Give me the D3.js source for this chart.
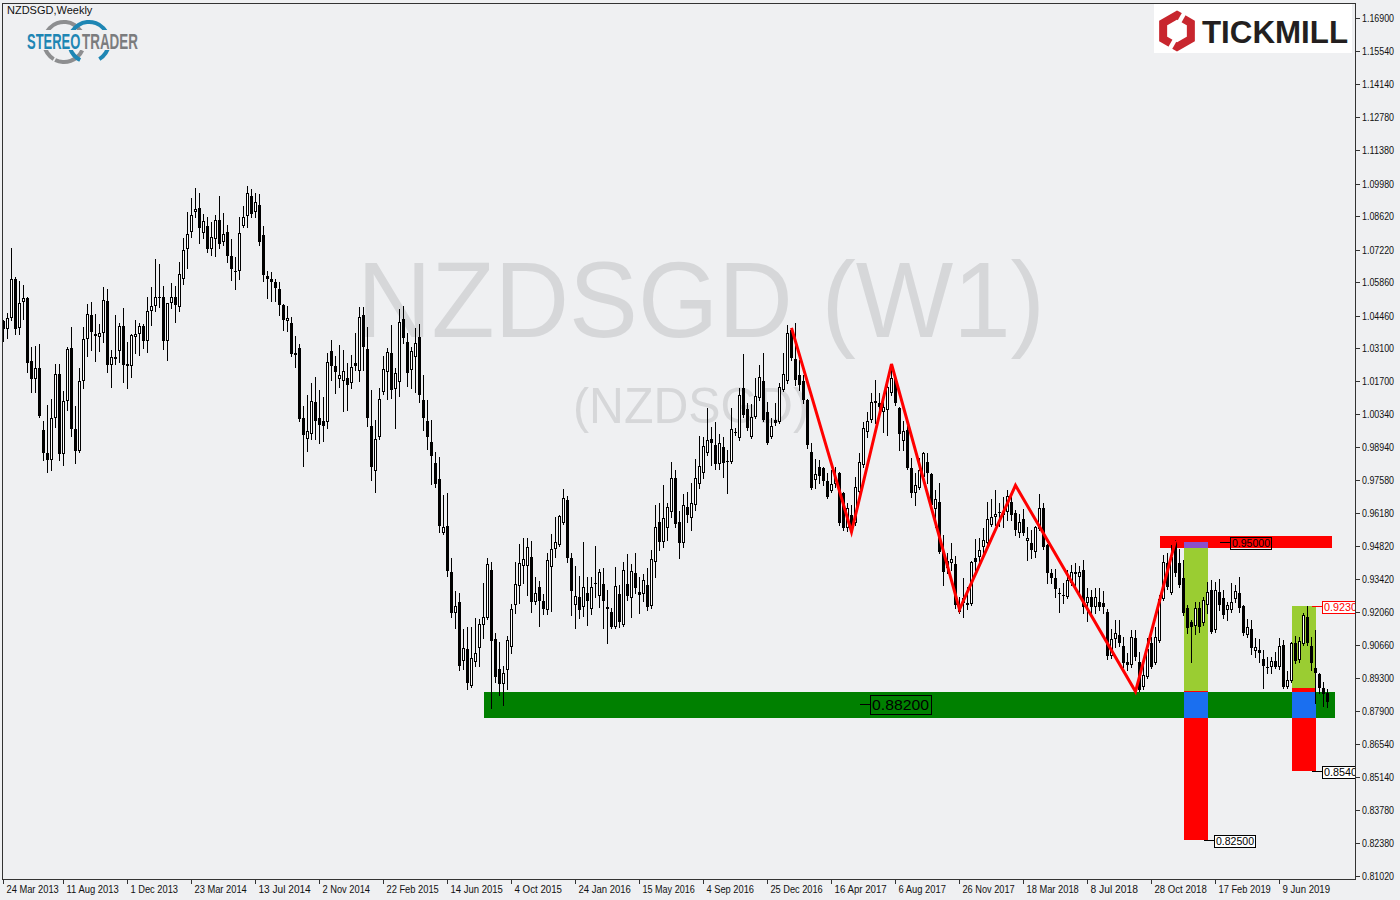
<!DOCTYPE html>
<html><head><meta charset="utf-8">
<script src="https://cdn.jsdelivr.net/npm/d3@7"></script>
<style>
html,body{margin:0;padding:0;background:#eff0f2;}
svg{display:block;}
text{font-family:"Liberation Sans",Arial,sans-serif;}
</style></head><body>
<svg id="chart" width="1400" height="900"></svg>
<script>
// ---------- DATA (weekly NZDSGD candles) ----------
const openP = [1.0423,1.0390,1.0436,1.0599,1.0394,1.0503,1.0519,1.0256,1.0180,1.0226,0.9967,0.9870,0.9841,1.0017,1.0201,0.9866,1.0088,1.0310,0.9971,0.9879,
1.0172,1.0348,1.0448,1.0369,1.0356,1.0373,1.0507,1.0239,1.0272,1.0297,1.0402,1.0243,1.0235,1.0356,1.0369,1.0402,1.0339,1.0465,1.0486,1.0524,
1.0523,1.0339,1.0498,1.0524,1.0482,1.0599,1.0724,1.0796,1.0879,1.0896,1.0791,1.0821,1.0724,1.0766,1.0846,1.0754,1.0796,1.0695,1.0632,1.0632,
1.0821,1.0862,1.0946,1.0879,1.0908,1.0783,1.0611,1.0599,1.0586,1.0557,1.0490,1.0423,1.0415,1.0289,1.0310,1.0017,0.9929,0.9950,1.0084,1.0017,
1.0004,1.0000,1.0297,1.0235,1.0180,1.0172,1.0184,1.0164,1.0247,1.0214,1.0448,1.0306,0.9984,0.9795,0.9937,1.0126,1.0210,1.0289,1.0138,1.0168,
1.0431,1.0335,1.0218,1.0272,1.0356,1.0092,1.0004,0.9917,0.9829,0.9762,0.9536,0.9565,0.9372,0.9201,0.9247,0.9000,0.9050,0.8895,0.8996,0.9054,
0.9151,0.9180,0.9381,0.9092,0.8966,0.8904,0.8962,0.9058,0.9234,0.9314,0.9398,0.9398,0.9435,0.9247,0.9310,0.9251,0.9213,0.9393,0.9469,0.9485,
0.9578,0.9674,0.9431,0.9234,0.9268,0.9226,0.9285,0.9218,0.9326,0.9272,0.9322,0.9218,0.9205,0.9142,0.9280,0.9151,0.9322,0.9264,0.9368,0.9289,
0.9280,0.9318,0.9230,0.9414,0.9582,0.9498,0.9557,0.9624,0.9766,0.9582,0.9494,0.9645,0.9598,0.9653,0.9741,0.9787,0.9870,0.9929,0.9904,0.9824,
0.9896,0.9837,0.9833,0.9958,0.9933,1.0143,1.0055,0.9937,1.0021,1.0101,1.0172,1.0042,0.9937,1.0009,1.0000,1.0134,1.0172,1.0385,1.0264,1.0197,
1.0172,1.0092,0.9875,0.9758,0.9812,0.9808,0.9753,0.9711,0.9741,0.9787,0.9703,0.9557,0.9611,0.9578,0.9707,0.9820,0.9958,1.0009,1.0088,1.0080,
1.0042,1.0050,1.0122,1.0180,1.0059,0.9921,0.9967,0.9808,0.9703,0.9724,0.9770,0.9833,0.9783,0.9636,0.9665,0.9456,0.9389,0.9410,0.9406,0.9205,
0.9243,0.9243,0.9238,0.9431,0.9435,0.9477,0.9494,0.9569,0.9603,0.9624,0.9611,0.9624,0.9665,0.9619,0.9536,0.9594,0.9502,0.9494,0.9456,0.9552,
0.9640,0.9485,0.9368,0.9347,0.9285,0.9276,0.9268,0.9326,0.9372,0.9352,0.9381,0.9243,0.9268,0.9226,0.9247,0.9243,0.9205,0.9021,0.9092,0.9109,
0.9063,0.8996,0.8983,0.9096,0.8996,0.8891,0.8933,0.9075,0.8991,0.9084,0.9259,0.9410,0.9285,0.9498,0.9410,0.9347,0.9222,0.9163,0.9146,0.9222,
0.9159,0.9234,0.9297,0.9130,0.9289,0.9264,0.9213,0.9213,0.9259,0.9285,0.9230,0.9109,0.9134,0.9042,0.9046,0.9008,0.8975,0.8975,0.9000,0.8975,
0.9067,0.8891,0.8916,0.9075,0.9004,0.9071,0.9184,0.9063,0.8971,0.8945,0.8887,0.8866];
const highP = [1.0427,1.0456,1.0729,1.0607,1.0590,1.0574,1.0524,1.0314,1.0318,1.0327,1.0004,1.0071,1.0097,1.0243,1.0243,1.0130,1.0314,1.0398,1.0067,1.0226,
1.0398,1.0494,1.0503,1.0452,1.0410,1.0565,1.0557,1.0302,1.0448,1.0415,1.0478,1.0335,1.0369,1.0427,1.0415,1.0410,1.0524,1.0565,1.0683,1.0662,
1.0570,1.0498,1.0582,1.0570,1.0670,1.0770,1.0879,1.0938,1.0980,1.0959,1.0871,1.0858,1.0837,1.0867,1.0946,1.0875,1.0825,1.0766,1.0691,1.0858,
1.0904,1.0988,1.0976,1.0959,1.0955,1.0821,1.0632,1.0628,1.0599,1.0586,1.0494,1.0486,1.0440,1.0360,1.0327,1.0067,1.0113,1.0164,1.0189,1.0134,
1.0105,1.0289,1.0343,1.0277,1.0323,1.0302,1.0247,1.0281,1.0373,1.0482,1.0482,1.0398,1.0134,1.0009,1.0143,1.0277,1.0310,1.0406,1.0226,1.0473,
1.0486,1.0373,1.0314,1.0394,1.0410,1.0197,1.0092,1.0009,0.9875,0.9854,0.9695,0.9703,0.9431,0.9293,0.9285,0.9134,0.9142,0.9142,0.9180,0.9176,
0.9326,0.9431,0.9414,0.9117,0.9079,0.8979,0.9105,0.9238,0.9414,0.9490,0.9515,0.9515,0.9502,0.9352,0.9335,0.9280,0.9452,0.9531,0.9603,0.9611,
0.9720,0.9691,0.9452,0.9398,0.9356,0.9498,0.9352,0.9352,0.9481,0.9385,0.9389,0.9297,0.9222,0.9393,0.9318,0.9414,0.9448,0.9406,0.9452,0.9352,
0.9364,0.9389,0.9465,0.9653,0.9661,0.9737,0.9661,0.9833,0.9799,0.9628,0.9699,0.9707,0.9745,0.9845,0.9942,0.9937,1.0059,0.9979,1.0000,0.9950,
0.9937,0.9883,1.0059,0.9975,1.0143,1.0285,1.0080,1.0076,1.0184,1.0239,1.0289,1.0084,1.0017,1.0080,1.0164,1.0289,1.0406,1.0394,1.0415,1.0260,
1.0197,1.0097,0.9912,0.9845,0.9841,0.9812,0.9787,0.9799,0.9812,0.9791,0.9707,0.9661,0.9653,0.9770,0.9870,1.0000,1.0042,1.0122,1.0176,1.0122,
1.0092,1.0168,1.0226,1.0197,1.0063,1.0004,0.9984,0.9850,0.9787,0.9850,0.9875,0.9870,0.9787,0.9716,0.9745,0.9527,0.9452,0.9494,0.9440,0.9268,
0.9347,0.9310,0.9418,0.9511,0.9515,0.9557,0.9665,0.9678,0.9716,0.9661,0.9686,0.9716,0.9686,0.9632,0.9615,0.9636,0.9561,0.9548,0.9565,0.9699,
0.9661,0.9490,0.9385,0.9385,0.9305,0.9326,0.9381,0.9402,0.9410,0.9398,0.9423,0.9305,0.9297,0.9305,0.9305,0.9293,0.9218,0.9134,0.9171,0.9171,
0.9100,0.9033,0.9130,0.9130,0.9038,0.8983,0.9096,0.9100,0.9142,0.9276,0.9444,0.9452,0.9485,0.9506,0.9469,0.9423,0.9234,0.9171,0.9247,0.9247,
0.9268,0.9331,0.9339,0.9331,0.9343,0.9297,0.9247,0.9326,0.9318,0.9352,0.9234,0.9176,0.9171,0.9096,0.9092,0.9046,0.9017,0.9017,0.9038,0.9096,
0.9088,0.8958,0.9079,0.9105,0.9100,0.9201,0.9230,0.9100,0.9130,0.8950,0.8912,0.8883];
const lowP = [1.0339,1.0352,1.0427,1.0369,1.0369,1.0431,1.0210,1.0126,1.0126,1.0021,0.9841,0.9791,0.9799,0.9979,0.9841,0.9820,1.0050,0.9942,0.9829,0.9875,
1.0143,1.0277,1.0302,1.0256,1.0297,1.0335,1.0210,1.0147,1.0243,1.0251,1.0168,1.0143,1.0189,1.0289,1.0281,1.0310,1.0293,1.0406,1.0465,1.0482,
1.0306,1.0260,1.0478,1.0419,1.0465,1.0578,1.0645,1.0775,1.0858,1.0749,1.0770,1.0712,1.0699,1.0695,1.0729,1.0741,1.0670,1.0595,1.0557,1.0599,
1.0817,1.0817,1.0858,1.0858,1.0741,1.0590,1.0519,1.0507,1.0507,1.0448,1.0385,1.0381,1.0277,1.0231,1.0004,0.9816,0.9879,0.9929,0.9929,0.9912,
0.9921,0.9975,1.0176,1.0122,1.0147,1.0046,1.0050,1.0143,1.0218,1.0172,1.0218,0.9984,0.9758,0.9707,0.9929,1.0117,1.0097,1.0101,0.9975,1.0109,
1.0331,1.0151,1.0143,1.0126,1.0084,0.9967,0.9887,0.9741,0.9728,0.9540,0.9531,0.9356,0.9184,0.9138,0.8962,0.8966,0.8883,0.8891,0.8979,0.8979,
0.9096,0.9176,0.8803,0.8912,0.8858,0.8816,0.8883,0.9033,0.9201,0.9243,0.9326,0.9276,0.9205,0.9238,0.9146,0.9197,0.9197,0.9209,0.9435,0.9481,
0.9573,0.9414,0.9192,0.9138,0.9180,0.9188,0.9151,0.9197,0.9268,0.9226,0.9138,0.9075,0.9138,0.9138,0.9142,0.9146,0.9255,0.9184,0.9285,0.9201,
0.9251,0.9213,0.9222,0.9352,0.9465,0.9477,0.9506,0.9603,0.9561,0.9431,0.9477,0.9582,0.9548,0.9632,0.9724,0.9766,0.9862,0.9820,0.9804,0.9804,
0.9770,0.9703,0.9829,0.9946,0.9925,1.0021,0.9967,0.9933,1.0017,1.0092,1.0004,0.9908,0.9933,0.9988,0.9996,1.0130,1.0164,1.0260,1.0155,1.0134,
1.0080,0.9891,0.9720,0.9724,0.9745,0.9737,0.9682,0.9707,0.9728,0.9569,0.9548,0.9544,0.9531,0.9569,0.9703,0.9812,0.9937,1.0000,0.9996,1.0021,
0.9958,0.9946,1.0113,1.0071,0.9883,0.9883,0.9804,0.9686,0.9653,0.9720,0.9749,0.9745,0.9645,0.9561,0.9452,0.9318,0.9368,0.9381,0.9222,0.9201,
0.9184,0.9218,0.9234,0.9381,0.9410,0.9431,0.9490,0.9565,0.9569,0.9565,0.9561,0.9590,0.9590,0.9527,0.9519,0.9527,0.9423,0.9431,0.9435,0.9548,
0.9469,0.9326,0.9326,0.9268,0.9205,0.9243,0.9264,0.9318,0.9310,0.9276,0.9201,0.9167,0.9201,0.9201,0.9213,0.9201,0.9008,0.9012,0.9058,0.9063,
0.8975,0.8962,0.8975,0.9004,0.8874,0.8883,0.8929,0.8971,0.8987,0.9079,0.9255,0.9301,0.9280,0.9356,0.9310,0.9192,0.9117,0.8996,0.9113,0.9121,
0.9151,0.9201,0.9117,0.9121,0.9213,0.9180,0.9171,0.9205,0.9247,0.9205,0.9109,0.9100,0.9029,0.9017,0.8996,0.8887,0.8950,0.8950,0.8971,0.8966,
0.8887,0.8887,0.8912,0.8991,0.8996,0.9067,0.9067,0.8962,0.8824,0.8866,0.8812,0.8807];
const closeP = [1.0390,1.0436,1.0599,1.0390,1.0498,1.0519,1.0247,1.0180,1.0226,1.0025,0.9870,0.9841,1.0017,1.0201,0.9866,1.0088,1.0306,0.9971,0.9879,1.0172,
1.0348,1.0452,1.0377,1.0361,1.0373,1.0511,1.0239,1.0272,1.0264,1.0402,1.0239,1.0235,1.0364,1.0369,1.0402,1.0339,1.0465,1.0486,1.0524,1.0523,
1.0339,1.0498,1.0524,1.0490,1.0620,1.0720,1.0787,1.0867,1.0892,1.0812,1.0842,1.0724,1.0775,1.0846,1.0745,1.0787,1.0695,1.0641,1.0630,1.0791,
1.0858,1.0959,1.0871,1.0921,1.0754,1.0616,1.0599,1.0586,1.0561,1.0490,1.0427,1.0436,1.0285,1.0281,1.0013,0.9946,0.9963,1.0088,1.0004,0.9988,
0.9984,1.0251,1.0235,1.0210,1.0197,1.0214,1.0155,1.0231,1.0235,1.0440,1.0314,1.0017,0.9812,0.9929,1.0097,1.0222,1.0293,1.0134,1.0205,1.0419,
1.0352,1.0205,1.0297,1.0331,1.0113,1.0017,0.9937,0.9858,0.9741,0.9565,0.9561,0.9377,0.9201,0.9230,0.8979,0.9054,0.8908,0.9012,0.9033,0.9155,
0.9184,0.9406,0.9084,0.8933,0.8904,0.8950,0.9088,0.9218,0.9322,0.9410,0.9427,0.9477,0.9247,0.9285,0.9251,0.9218,0.9423,0.9469,0.9498,0.9607,
0.9682,0.9431,0.9293,0.9272,0.9213,0.9310,0.9251,0.9310,0.9324,0.9372,0.9251,0.9226,0.9142,0.9314,0.9163,0.9381,0.9272,0.9377,0.9305,0.9276,
0.9339,0.9226,0.9427,0.9561,0.9498,0.9598,0.9645,0.9766,0.9573,0.9494,0.9653,0.9611,0.9661,0.9766,0.9816,0.9900,0.9925,0.9912,0.9824,0.9912,
0.9829,0.9833,0.9971,0.9954,1.0113,1.0030,0.9975,1.0021,1.0109,1.0189,1.0009,0.9912,0.9984,0.9996,1.0147,1.0201,1.0373,1.0268,1.0176,1.0155,
1.0092,0.9904,0.9724,0.9783,0.9774,0.9753,0.9686,0.9741,0.9770,0.9578,0.9557,0.9640,0.9561,0.9728,0.9833,0.9975,1.0004,1.0084,1.0080,1.0063,
1.0063,1.0147,1.0184,1.0080,0.9950,0.9963,0.9808,0.9703,0.9737,0.9799,0.9870,0.9787,0.9653,0.9678,0.9456,0.9372,0.9418,0.9427,0.9234,0.9234,
0.9264,0.9234,0.9414,0.9414,0.9465,0.9506,0.9594,0.9603,0.9615,0.9619,0.9624,0.9691,0.9611,0.9548,0.9582,0.9536,0.9515,0.9465,0.9561,0.9640,
0.9477,0.9368,0.9347,0.9301,0.9280,0.9278,0.9339,0.9372,0.9364,0.9372,0.9226,0.9268,0.9226,0.9268,0.9226,0.9226,0.9021,0.9092,0.9117,0.9075,
0.8991,0.8983,0.9100,0.9017,0.8878,0.8941,0.9050,0.8975,0.9100,0.9259,0.9414,0.9310,0.9435,0.9368,0.9318,0.9201,0.9138,0.9142,0.9222,0.9142,
0.9255,0.9289,0.9121,0.9297,0.9234,0.9192,0.9234,0.9247,0.9293,0.9222,0.9117,0.9142,0.9054,0.9058,0.9033,0.8979,0.8971,0.9000,0.8975,0.9063,
0.8891,0.8920,0.9075,0.9000,0.9084,0.9192,0.9075,0.8991,0.8950,0.8887,0.8862,0.8828];

const priceTicks = [1.169,1.1554,1.1414,1.1278,1.1138,1.0998,1.0862,1.0722,1.0586,1.0446,1.031,1.017,1.0034,0.9894,0.9758,0.9618,0.9482,0.9342,0.9206,0.9066,0.893,0.879,0.8654,0.8514,0.8378,0.8238,0.8102];
const dateLabels = ["24 Mar 2013","11 Aug 2013","1 Dec 2013","23 Mar 2014","13 Jul 2014","2 Nov 2014","22 Feb 2015","14 Jun 2015","4 Oct 2015","24 Jan 2016","15 May 2016","4 Sep 2016","25 Dec 2016","16 Apr 2017","6 Aug 2017","26 Nov 2017","18 Mar 2018","8 Jul 2018","28 Oct 2018","17 Feb 2019","9 Jun 2019"];
const dateLabelBars = [0,15,31,47,63,79,95,111,127,143,159,175,191,207,223,239,255,271,287,303,319];

// zigzag pivots (bar index, price)
const zigzagBars = [197,212,222,239,253,283,293];
const zigzagPrices = [1.0394,0.9540,1.0243,0.9216,0.9735,0.8872,0.9504];

// horizontal zones: [fromBar, toBar, topPrice, bottomPrice]
const supportZone = [120,333,0.8870,0.8761];
const resistanceZone = [289,332,0.9523,0.9474];
// trade boxes: bars and level prices (top -> bottom)
const tradeBoxBars = [[295,301],[322,328]];
const tradeBoxLevels = [
  [0.9500,0.9474,0.8874,0.8870,0.8761,0.8250],
  [0.9230,0.9230,0.8888,0.8870,0.8761,0.8540]
];
// price tags: [price, bar, text, style]
const priceTags = [
  [0.8820,214,"0.88200","big"],
  [0.9500,304,"0.95000","onred"],
  [0.8250,300,"0.82500","plain"],
  [0.9230,327,"0.9230","red"],
  [0.8540,327,"0.8540","plain"]
];

// ---------- DRAW ----------
const W=1400,H=900;
const svg=d3.select("#chart");
const N=closeP.length;
const plot={left:2,right:1356,top:3,bottom:879};
const x=d3.scaleLinear().domain([0,N-1]).range([3.5,3.5+4*(N-1)]);
const y=d3.scaleLinear().domain([0.8102,1.169]).range([875.5,18.3]);

svg.append("rect").attr("width",W).attr("height",H).attr("fill","#eff0f2");
svg.append("defs").append("clipPath").attr("id","plotclip").append("rect")
  .attr("x",plot.left).attr("y",plot.top).attr("width",plot.right-plot.left).attr("height",plot.bottom-plot.top);

const g=svg.append("g").attr("clip-path","url(#plotclip)");

// watermark
g.append("text").attr("x",357).attr("y",337).attr("font-size",108).attr("fill","#d6d7d9")
  .attr("textLength",688).attr("lengthAdjust","spacingAndGlyphs").text("NZDSGD (W1)");
g.append("text").attr("x",573).attr("y",423).attr("font-size",50).attr("fill","#d6d7d9")
  .attr("textLength",236).attr("lengthAdjust","spacingAndGlyphs").text("(NZDSGD)");

// zones
function band(b0,b1,p0,p1,color){
  const yt=Math.round(y(p0)), yb=Math.round(y(p1));
  g.append("rect").attr("x",Math.round(x(b0))).attr("y",yt)
   .attr("width",Math.round(x(b1))-Math.round(x(b0))).attr("height",Math.max(1,yb-yt)).attr("fill",color);
}
band(supportZone[0],supportZone[1],supportZone[2],supportZone[3],"#008000");
band(resistanceZone[0],resistanceZone[1],resistanceZone[2],resistanceZone[3],"#ff0000");
const boxColors=["#8a4fcc","#9acd32","#ff0000","#1a6ff0","#ff0000"];
tradeBoxBars.forEach((bb,i)=>{
  const L=tradeBoxLevels[i];
  for(let j=0;j<5;j++){ if(L[j]!==L[j+1]) band(bb[0],bb[1],L[j],L[j+1],boxColors[j]); }
});

// candles
const cg=g.append("g").attr("shape-rendering","crispEdges");
const idx=d3.range(N);
cg.selectAll("line.w").data(idx).join("line").attr("class","w")
  .attr("x1",i=>x(i)).attr("x2",i=>x(i))
  .attr("y1",i=>Math.round(y(highP[i]))).attr("y2",i=>Math.round(y(lowP[i]))+1)
  .attr("stroke","#000").attr("stroke-width",1);
cg.selectAll("rect.b").data(idx).join("rect").attr("class","b")
  .each(function(i){
    const o=openP[i],c=closeP[i];
    const t=Math.round(y(Math.max(o,c))), b=Math.round(y(Math.min(o,c)));
    const s=d3.select(this);
    if(c>o && b-t>=2){
      s.attr("x",x(i)-1).attr("y",t+0.5).attr("width",2).attr("height",b-t-1)
       .attr("fill","#fff").attr("stroke","#000").attr("stroke-width",1);
    } else {
      s.attr("x",x(i)-1.5).attr("y",t).attr("width",3).attr("height",Math.max(1,b-t)).attr("fill","#000");
    }
  });

// zigzag
g.append("path").datum(zigzagBars.map((b,i)=>[x(b),y(zigzagPrices[i])]))
  .attr("d",d3.line()).attr("fill","none").attr("stroke","#ff0000").attr("stroke-width",3)
  .attr("stroke-linejoin","miter");

// price tags
priceTags.forEach(([p,b,txt,st])=>{
  const yy=Math.round(y(p))+0.5, x0=Math.round(x(b));
  const big=st==="big";
  const col=st==="red"?"#ff0000":"#000";
  const bw=big?61:(txt.length>6?41:40), bh=big?19:12;
  g.append("line").attr("x1",x0).attr("x2",x0+10).attr("y1",yy).attr("y2",yy).attr("stroke",col).attr("stroke-width",1);
  g.append("rect").attr("x",x0+10.5).attr("y",Math.round(yy-bh/2)+0.5).attr("width",bw).attr("height",bh)
    .attr("fill",st==="onred"?"none":(big?"none":"#fff")).attr("stroke",col).attr("stroke-width",1);
  g.append("text").attr("x",x0+12).attr("y",yy+(big?5.5:4)).attr("font-size",big?15:11).attr("fill",col)
    .attr("textLength",big?57:(txt.length>6?38:33)).attr("lengthAdjust","spacingAndGlyphs").text(txt);
});

// frame
svg.append("rect").attr("x",plot.left+0.5).attr("y",plot.top+0.5).attr("width",plot.right-plot.left-1).attr("height",plot.bottom-plot.top)
  .attr("fill","none").attr("stroke","#333").attr("stroke-width",1);

// right axis
const ax=svg.append("g").attr("shape-rendering","crispEdges");
priceTicks.forEach(p=>{
  const yy=Math.round(y(p))+0.5;
  ax.append("line").attr("x1",plot.right).attr("x2",plot.right+4).attr("y1",yy).attr("y2",yy).attr("stroke","#333");
  ax.append("text").attr("x",plot.right+6).attr("y",yy+3.5).attr("font-size",10).attr("fill","#111")
    .attr("textLength",32).attr("lengthAdjust","spacingAndGlyphs").text(p.toFixed(5));
});
// bottom axis
dateLabels.forEach((lab,i)=>{
  const xx=Math.round(x(dateLabelBars[i]))-0.5;
  ax.append("line").attr("x1",xx).attr("x2",xx).attr("y1",plot.bottom).attr("y2",plot.bottom+5).attr("stroke","#333");
  ax.append("text").attr("x",xx+3).attr("y",893).attr("font-size",10).attr("fill","#111")
    .attr("textLength",lab.length*4.75).attr("lengthAdjust","spacingAndGlyphs").text(lab);
});

// header text
svg.append("text").attr("x",7).attr("y",14).attr("font-size",11).attr("fill","#111").text("NZDSGD,Weekly");

// StereoTrader logo
const lg=svg.append("g");
const arc=d3.arc();
lg.append("path").attr("transform","translate(64,42)")
  .attr("d",arc({innerRadius:18,outerRadius:22,startAngle:-2.6,endAngle:1.0})).attr("fill","#8d8e90");
lg.append("path").attr("transform","translate(64,42)")
  .attr("d",arc({innerRadius:18,outerRadius:22,startAngle:2.0,endAngle:3.6})).attr("fill","#8d8e90");
lg.append("path").attr("transform","translate(89,42)")
  .attr("d",arc({innerRadius:18,outerRadius:22,startAngle:-1.0,endAngle:2.6})).attr("fill","#1e86b4");
lg.append("path").attr("transform","translate(89,42)")
  .attr("d",arc({innerRadius:18,outerRadius:22,startAngle:3.6,endAngle:5.2})).attr("fill","#1e86b4");
lg.append("rect").attr("x",26).attr("y",30).attr("width",113).attr("height",20).attr("fill","#eff0f2");
lg.append("g").attr("transform","translate(27,49) scale(0.59,1)")
  .append("text").attr("x",0).attr("y",0).attr("font-size",22).attr("font-weight","bold").attr("fill","#1e86b4").text("STEREO");
lg.append("g").attr("transform","translate(82,49) scale(0.61,1)")
  .append("text").attr("x",0).attr("y",0).attr("font-size",22).attr("font-weight","bold").attr("fill","#7b7c7e").text("TRADER");

// Tickmill logo
const tl=svg.append("g");
tl.append("rect").attr("x",1154).attr("y",4).attr("width",198).attr("height",49).attr("fill","#fff");
const hx=1177,hy=31,hr=16;
const hex=d3.range(6).map(k=>{const a=Math.PI/3*k-Math.PI/2;return [hx+hr*Math.cos(a),hy+hr*Math.sin(a)];});
tl.append("path").attr("d","M"+hex.map(p=>p.join(",")).join("L")+"Z").attr("fill","none").attr("stroke","#c8262e").attr("stroke-width",8).attr("stroke-linejoin","miter");
tl.append("path").attr("d",`M${hx+6},${hy-20} L${hx+11},${hy-20} L${hx+3},${hy-6} L${hx-2},${hy-6}Z`).attr("fill","#fff");
tl.append("path").attr("d",`M${hx-6},${hy+20} L${hx-11},${hy+20} L${hx-3},${hy+6} L${hx+2},${hy+6}Z`).attr("fill","#fff");
tl.append("text").attr("x",1202).attr("y",43).attr("font-size",31).attr("font-weight","bold").attr("fill","#231f20")
  .attr("textLength",146).attr("lengthAdjust","spacingAndGlyphs").text("TICKMILL");
</script>
</body></html>
